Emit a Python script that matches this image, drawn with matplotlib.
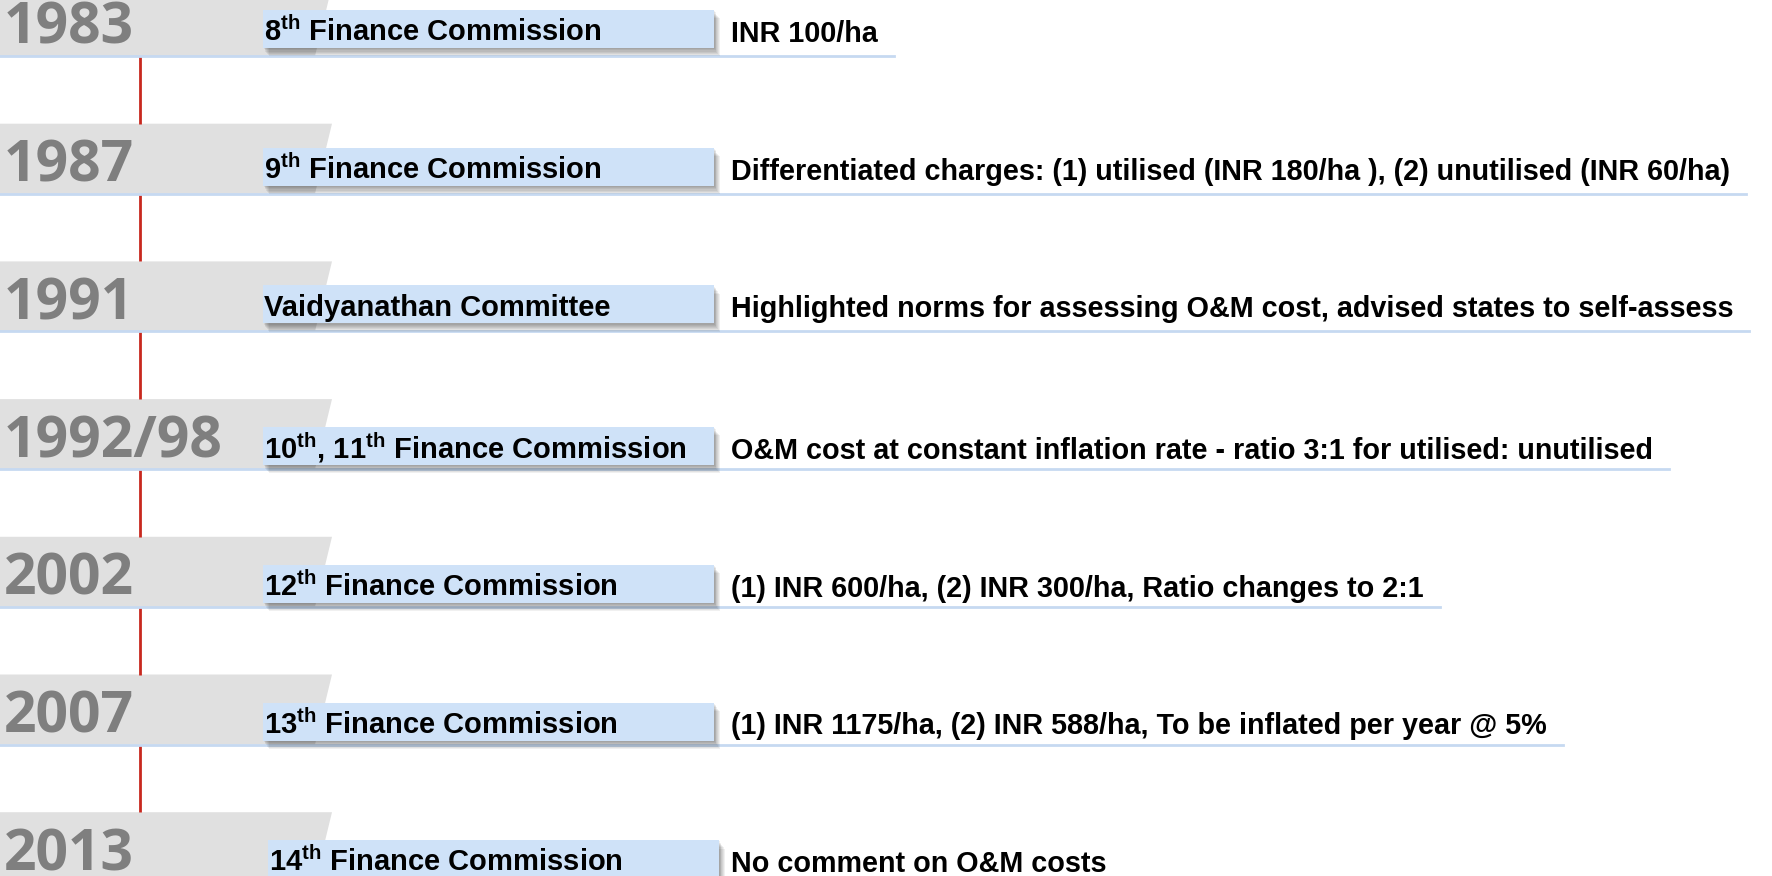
import re
import matplotlib
matplotlib.use("Agg")
import matplotlib.pyplot as plt
from matplotlib.patches import Polygon, Rectangle

# ---- data ----
years = ["1983", "1987", "1991", "1992/98", "2002", "2007", "2013"]
bodies = [
    "8th Finance Commission",
    "9th Finance Commission",
    "Vaidyanathan Committee",
    "10th, 11th Finance Commission",
    "12th Finance Commission",
    "13th Finance Commission",
    "14th Finance Commission",
]
decisions = [
    "INR 100/ha",
    "Differentiated charges: (1) utilised (INR 180/ha ), (2) unutilised (INR 60/ha)",
    "Highlighted norms for assessing O&M cost, advised states to self-assess",
    "O&M cost at constant inflation rate - ratio 3:1 for utilised: unutilised",
    "(1) INR 600/ha, (2) INR 300/ha, Ratio changes to 2:1",
    "(1) INR 1175/ha, (2) INR 588/ha, To be inflated per year @ 5%",
    "No comment on O&M costs",
]

# ---- style ----
plt.rcParams["mathtext.fontset"] = "custom"
plt.rcParams["mathtext.rm"] = "Liberation Sans:bold"
plt.rcParams["mathtext.bf"] = "Liberation Sans:bold"
plt.rcParams["mathtext.it"] = "Liberation Sans:bold"
plt.rcParams["mathtext.default"] = "bf"

BAND = "#e0e0e0"
BOX = "#cfe2f8"
LINE = "#c6d9f1"
RED = "#c8281e"
YEARC = "#7f7f7f"

W, H = 1772, 876
fig = plt.figure(figsize=(W / 100, H / 100), dpi=100)
ax = fig.add_axes([0, 0, 1, 1])
ax.set_xlim(0, W)
ax.set_ylim(H, 0)
ax.axis("off")

ROW0, STEP, BAND_H = -14, 137.7, 70
BOX_X, BOX_W, BOX_H = 263, 451, 38
DESC_X = 731


def sup(label):
    return re.sub(r"(\d+)th", r"\1$^{th}$", label)


descs = []
for i, (yr, body, dec) in enumerate(zip(years, bodies, decisions)):
    top = ROW0 + STEP * i
    bot = top + BAND_H
    ax.add_patch(Polygon([(0, top), (332, top), (315, bot), (0, bot)],
                         closed=True, fc=BAND, ec="none", zorder=1))
    ax.text(4, top + 58, yr, fontsize=41, family="Open Sans", fontweight="bold",
            color=YEARC, va="baseline", ha="left", zorder=2)
    boff = 24 if i < 3 else 28
    bx = BOX_X + (5 if i == 6 else 0)
    by0 = top + boff
    for d in range(1, 8):
        ax.add_patch(Rectangle((bx + d * 0.8, by0 + d * 1.2), BOX_W, BOX_H,
                               fc="black", ec="none", alpha=0.06, zorder=3))
    ax.add_patch(Rectangle((bx, by0), BOX_W, BOX_H, fc=BOX, ec="none", zorder=4))
    ax.text(bx + 1, by0 + 31, sup(body), fontsize=21, family="Liberation Sans",
            fontweight="bold", color="black", va="baseline", ha="left", zorder=5)
    t = ax.text(DESC_X, by0 + 32, dec, fontsize=20.7, family="Liberation Sans",
                fontweight="bold", color="black", va="baseline", ha="left", zorder=5)
    descs.append((t, bot))
    if i < len(years) - 1:
        ax.plot([140, 140], [bot, top + STEP], color=RED, lw=2, zorder=2,
                solid_capstyle="butt")

fig.canvas.draw()
r = fig.canvas.get_renderer()
inv = ax.transData.inverted()
for t, bot in descs:
    bb = t.get_window_extent(r)
    x_end = inv.transform((bb.x1, bb.y0))[0]
    ax.plot([0, x_end + 16], [bot, bot], color=LINE, lw=2, zorder=2.5)

fig.savefig("out.png", dpi=100)
